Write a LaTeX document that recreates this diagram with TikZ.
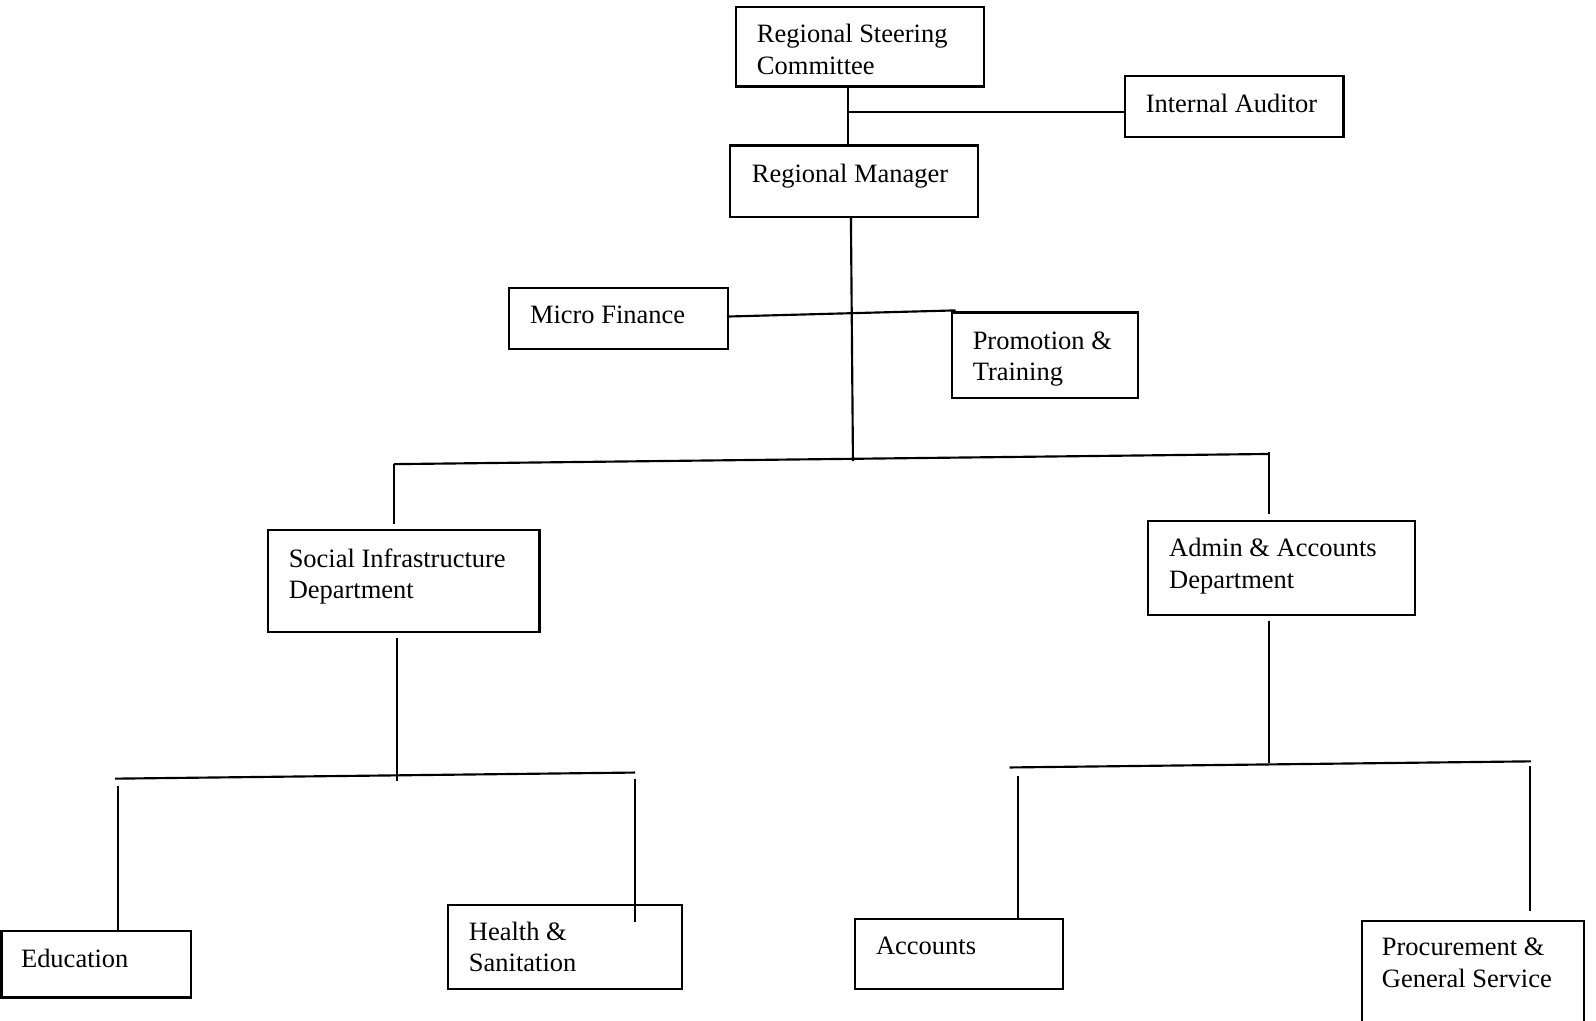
\documentclass[tikz,border=0pt]{standalone}
\usepackage{fontspec}
\setmainfont{Liberation Serif}
\usetikzlibrary{fit,calc}
\begin{document}
\begin{tikzpicture}[x=0.01cm,y=-0.01cm,
  box/.style={draw, line width=0.6pt, inner sep=0pt},
  txt/.style={anchor=north west, inner sep=0pt, align=left, font=\fontsize{7.4}{8.7}\selectfont},
  conn/.style={line width=0.6pt}]
\useasboundingbox (0,0) rectangle (1568,1003);
% boxes
\node[box, fit={(723,7) (967,85)}] (rsc) {};
\node[box, fit={(1105,75) (1320,135)}] (ia) {};
\node[box, fit={(717,143) (961,213)}] (rm) {};
\node[box, fit={(500,283) (715,343)}] (mf) {};
\node[box, fit={(935,307) (1118,391)}] (pt) {};
\node[box, fit={(263,521) (530,621)}] (sid) {};
\node[box, fit={(1128,512) (1390,604)}] (aad) {};
\node[box, fit={(1.5,915) (188,980)}] (edu) {};
\node[box, fit={(440,889) (670,972)}] (hs) {};
\node[box, fit={(840,903) (1044,972)}] (acc) {};
\node[box, fit={(1338,905) (1556,1012)}] (proc) {};
% texts
\node[txt] (trsc) at (743,20) {\strut Regional Steering\\Committee};
\node[txt] (tia) at (1125,88) {\strut Internal Auditor};
\node[txt] (trm) at (738,157) {\strut Regional Manager};
\node[txt] (tmf) at (520,296) {\strut Micro Finance};
\node[txt] (tpt) at (955,321) {\strut Promotion \&\\Training};
\node[txt] (tsid) at (283,535) {\strut Social Infrastructure\\Department};
\node[txt] (taad) at (1148,525) {\strut Admin \& Accounts\\Department};
\node[txt] (tedu) at (20,928) {\strut Education};
\node[txt] (ths) at (460,902) {\strut Health \&\\Sanitation};
\node[txt] (tacc) at (860,916) {\strut Accounts};
\node[txt] (tproc) at (1357,917) {\strut Procurement \&\\General Service};
% junction coordinates
\coordinate (j1) at (833,110);
\coordinate (t1) at (838,453);
\coordinate (b1l) at (387,456);
\coordinate (b1r) at (1247,446);
\coordinate (b1rt) at (1247,444);
\coordinate (t2) at (390,767);
\coordinate (b2l) at (113,765);
\coordinate (b2r) at (624,759);
\coordinate (e2l) at (116,772);
\coordinate (e2r) at (624,765);
\coordinate (t3) at (1247,750);
\coordinate (b3l) at (992,754);
\coordinate (b3r) at (1504,748);
\coordinate (e3l) at (1000,762);
\coordinate (e3r) at (1503,753);
% connectors
\draw[conn] (rsc.south -| j1) -- (rm.north -| j1);
\draw[conn] (j1) -- (ia.west |- j1);
\draw[conn] ($(rm.south)+(-3,0)$) -- (t1);
\draw[conn] ($(mf.east)+(-2,-2)$) -- ($(pt.north west)+(5,-1)$);
\draw[conn] (b1l) -- (b1r);
\draw[conn] (b1l) -- ($(sid.north -| b1l)+(0,-5)$);
\draw[conn] (b1rt) -- ($(aad.north -| b1rt)+(0,-6)$);
\draw[conn] ($(sid.south -| t2)+(0,5)$) -- (t2);
\draw[conn] (b2l) -- (b2r);
\draw[conn] (e2l) -- (edu.north -| e2l);
\draw[conn] (e2r) -- ($(hs.north -| e2r)+(0,18)$);
\draw[conn] ($(aad.south -| t3)+(0,5)$) -- (t3);
\draw[conn] (b3l) -- (b3r);
\draw[conn] (e3l) -- ($(acc.north -| e3l)+(0,2)$);
\draw[conn] (e3r) -- ($(proc.north -| e3r)+(0,-9)$);
\end{tikzpicture}
\end{document}
